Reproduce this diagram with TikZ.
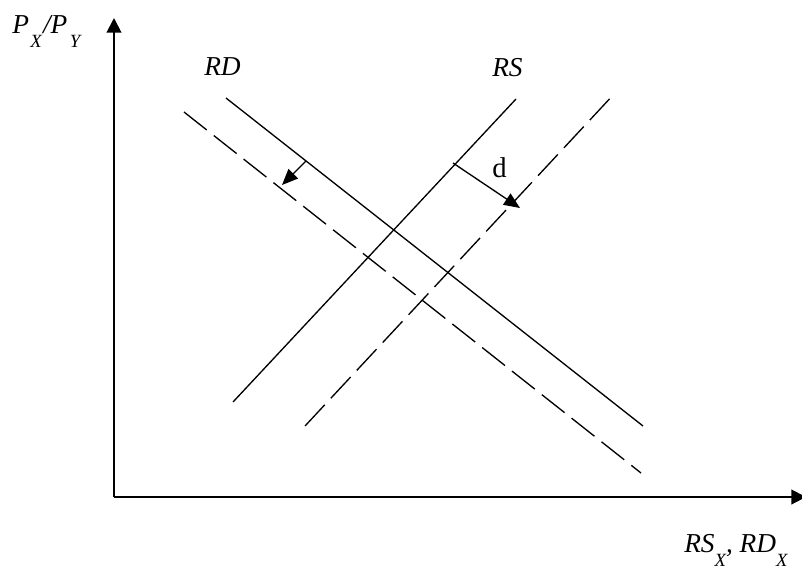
\documentclass[tikz,border=0pt]{standalone}
\usepackage{fontspec}
\setmainfont{Liberation Serif}
\usetikzlibrary{arrows.meta,positioning}
\newcommand{\lowsub}[1]{\raisebox{-0.52em}{\fontsize{14pt}{15pt}\selectfont\itshape #1}}
\tikzset{
  % axes and the two pairs of curves
  axis/.style    = {-{Triangle[length=11pt,width=11pt]}, line width=1.5pt},
  curve/.style   = {line width=1pt},
  shifted/.style = {line width=1pt, dash pattern=on 21.75pt off 6.75pt},
  move/.style    = {-{Triangle[length=12pt,width=10pt]}, line width=1pt},
  lbl/.style     = {font=\fontsize{20.5pt}{22pt}\selectfont\itshape, inner sep=0pt},
  dlbl/.style    = {font=\fontsize{21.5pt}{23pt}\selectfont, inner sep=0pt},
}

\begin{document}
\begin{tikzpicture}[x=0.75pt,y=-0.75pt]
\useasboundingbox (0,0) rectangle (802,569);
% axes
\coordinate (origin) at (114,497);
\coordinate (ytop) at (114,18);
\coordinate (xend) at (806,497);
\draw[axis] (origin) -- (ytop);
\draw[axis] (origin) -- (xend);
\node[lbl, anchor=base west] (pratio) at (12,33) {P\kern1pt\lowsub{X}\kern1pt/P\kern2pt\lowsub{Y}};
\node[lbl, anchor=base west] (qlabel) at (684,552) {RS\lowsub{X}, RD\lowsub{X}};
% relative demand
\coordinate (rdA) at (226,98);
\coordinate (rdB) at (643,426);
\coordinate (rddA) at (184,112);
\coordinate (rddB) at (641,473);
\draw[curve] (rdA) -- (rdB);
\draw[shifted] (rddA) -- (rddB);
\node[lbl, anchor=base west] (rdlabel) at (204,75) {RD};
% relative supply
\coordinate (rsA) at (233,402);
\coordinate (rsB) at (516,99);
\coordinate (rsdA) at (305,426);
\coordinate (rsdB) at (615,93);
\draw[curve] (rsA) -- (rsB);
\draw[shifted] (rsdA) -- (rsdB);
\node[lbl, anchor=base west] (rslabel) at (492,76) {RS};
% shifts
\coordinate (rdfrom) at (306,161);
\coordinate (rdto) at (282,185);
\coordinate (rsfrom) at (453,163);
\coordinate (rsto) at (520,208);
\draw[move] (rdfrom) -- (rdto);
\draw[move] (rsfrom) -- (rsto);
\node[dlbl, anchor=base west] (dlabel) at (492,177) {d};
\end{tikzpicture}
\end{document}
